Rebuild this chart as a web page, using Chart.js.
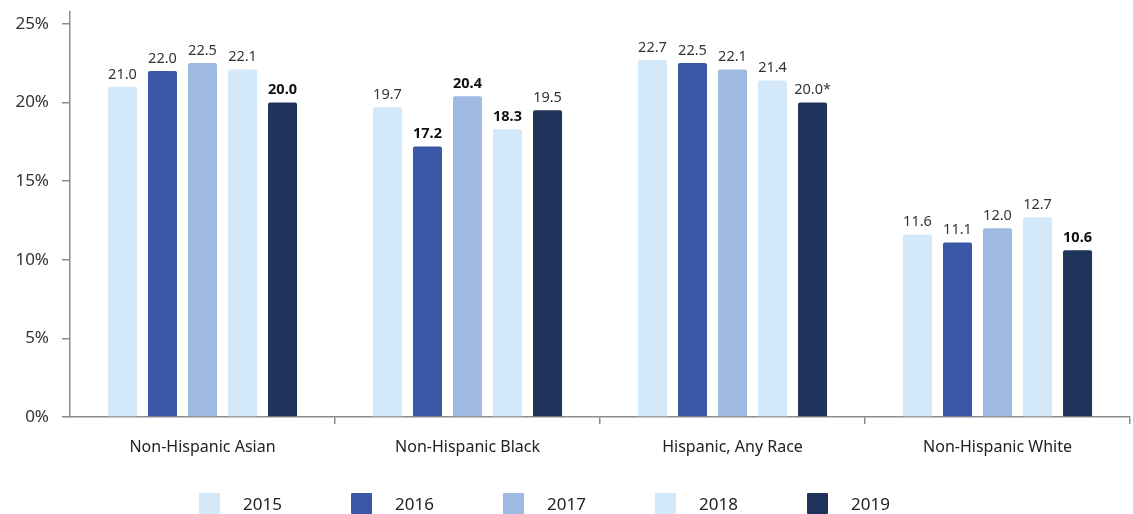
<!DOCTYPE html>
<html>
<head>
<meta charset="utf-8">
<script src="https://cdn.jsdelivr.net/npm/chart.js@4.4.1/dist/chart.umd.min.js"></script>
<style>
  html, body { margin: 0; padding: 0; background: #fff; }
  #wrap { position: relative; width: 1133px; height: 514px; overflow: hidden; }
  #legend { position: absolute; left: 0; top: 493px; width: 1133px; height: 21px; font-family: "Noto Sans", sans-serif; font-size: 17px; color: #222; }
  .item { position: absolute; top: 0; height: 21px; display: flex; align-items: center; }
  .box { width: 21px; height: 21px; border-radius: 1px; margin-right: 23px; }
</style>
</head>
<body>
<div id="wrap">
  <canvas id="chart" width="1133" height="514"></canvas>
  <div id="legend"></div>
</div>
<script>
const categories = ["Non-Hispanic Asian", "Non-Hispanic Black", "Hispanic, Any Race", "Non-Hispanic White"];
const years = ["2015", "2016", "2017", "2018", "2019"];

const values2015 = [21.0, 19.7, 22.7, 11.6];
const values2016 = [22.0, 17.2, 22.5, 11.1];
const values2017 = [22.5, 20.4, 22.1, 12.0];
const values2018 = [22.1, 18.3, 21.4, 12.7];
const values2019 = [20.0, 19.5, 20.0, 10.6];

// which value labels are printed bold, and footnote marks
const bold2015 = [false, false, false, false];
const bold2016 = [false, true, false, false];
const bold2017 = [false, true, false, false];
const bold2018 = [false, true, false, false];
const bold2019 = [true, false, false, true];
const marks2019 = ["", "", "*", ""];

const yTicks = [0, 5, 10, 15, 20, 25];

const colors = ["#d3e8f8", "#3b58a6", "#9fbae1", "#d3e8f8", "#20335a"];
const series = [values2015, values2016, values2017, values2018, values2019];
const bolds = [bold2015, bold2016, bold2017, bold2018, bold2019];
const marks = [null, null, null, null, marks2019];

const FONT = '"Noto Sans", sans-serif';
const axisGrey = "#8c8c8c";

const valueLabels = {
  id: "valueLabels",
  afterDatasetsDraw(chart) {
    const ctx = chart.ctx;
    ctx.save();
    ctx.textAlign = "center";
    ctx.textBaseline = "bottom";
    chart.data.datasets.forEach((ds, di) => {
      const meta = chart.getDatasetMeta(di);
      meta.data.forEach((bar, i) => {
        const b = bolds[di][i];
        ctx.font = (b ? "bold " : "") + "14.5px " + FONT;
        ctx.fillStyle = b ? "#111" : "#333";
        let t = ds.data[i].toFixed(1);
        if (marks[di]) t += marks[di][i];
        ctx.fillText(t, bar.x, bar.y - 5);
      });
    });
    ctx.restore();
  }
};

new Chart(document.getElementById("chart"), {
  type: "bar",
  data: {
    labels: categories,
    datasets: years.map((y, i) => ({
      label: y,
      data: series[i],
      backgroundColor: colors[i],
      borderRadius: 2,
      borderSkipped: "start",
      categoryPercentage: 0.755,
      barPercentage: 0.725,
    })),
  },
  options: {
    responsive: false,
    animation: false,
    layout: { padding: { top: 12, right: 3, bottom: 47, left: 0 } },
    plugins: {
      legend: { display: false },
      tooltip: { enabled: false },
    },
    scales: {
      x: {
        grid: {
          offset: true,
          drawOnChartArea: false,
          tickLength: 7,
          color: (c) => (c.index === 0 ? "transparent" : axisGrey),
          lineWidth: 1.5,
        },
        border: { color: axisGrey, width: 1.5 },
        ticks: { font: { family: FONT, size: 16 }, color: "#222", padding: 14 },
        afterFit: (s) => { s.height = 50; s.paddingLeft = 0; s.paddingRight = 0; },
      },
      y: {
        min: 0,
        max: 25.75,
        afterBuildTicks: (s) => { s.ticks = yTicks.map((v) => ({ value: v })); },
        grid: { drawOnChartArea: false, tickLength: 8, color: axisGrey, lineWidth: 1.5 },
        border: { color: axisGrey, width: 1.5 },
        ticks: {
          font: { family: FONT, size: 17 },
          color: "#333",
          padding: 13,
          callback: (v) => v + "%",
        },
        afterFit: (s) => { s.width = 70; s.paddingTop = 0; s.paddingBottom = 0; },
      },
    },
  },
  plugins: [valueLabels],
});

// legend below the chart
const legend = document.getElementById("legend");
years.forEach((y, i) => {
  const item = document.createElement("div");
  item.className = "item";
  item.style.left = (199 + i * 152) + "px";
  const box = document.createElement("div");
  box.className = "box";
  box.style.background = colors[i];
  const txt = document.createElement("span");
  txt.textContent = y;
  item.appendChild(box);
  item.appendChild(txt);
  legend.appendChild(item);
});
</script>
</body>
</html>
